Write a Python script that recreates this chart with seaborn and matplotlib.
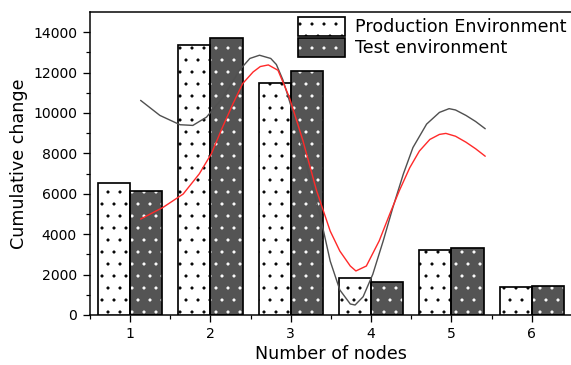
import matplotlib
matplotlib.use("Agg")
import matplotlib.pyplot as plt
from matplotlib.patches import Rectangle
from matplotlib.legend_handler import HandlerTuple
from matplotlib.ticker import MultipleLocator, FixedLocator
import seaborn as sns
import pandas as pd

# ---- data ----
nodes = [1, 2, 3, 4, 5, 6]
production = [6520, 13390, 11500, 1850, 3230, 1390]
test = [6160, 13690, 12060, 1620, 3330, 1455]
series_names = ["Production Environment", "Test environment"]

gray_x = [1.13, 1.37, 1.62, 1.78, 1.95, 2.16, 2.36, 2.49, 2.61, 2.75, 2.82, 2.90, 2.96,
          3.03, 3.19, 3.36, 3.49, 3.61, 3.74, 3.80, 3.90, 4.02, 4.15, 4.27, 4.40, 4.52,
          4.69, 4.85, 4.97, 5.05, 5.18, 5.30, 5.42]
gray_y = [10625, 9880, 9420, 9385, 9795, 10790, 12115, 12700, 12860, 12700, 12400, 11650, 10900,
          9965, 7480, 5000, 2670, 1240, 545, 495, 905, 2015, 3670, 5320, 6975, 8290,
          9450, 10030, 10215, 10150, 9880, 9580, 9220]

red_x = [1.13, 1.41, 1.66, 1.86, 2.01, 2.15, 2.28, 2.40, 2.53, 2.62, 2.72, 2.84, 2.98,
         3.15, 3.32, 3.49, 3.61, 3.74, 3.81, 3.94, 4.10, 4.23, 4.35, 4.48, 4.60, 4.73,
         4.85, 4.93, 5.05, 5.18, 5.30, 5.42]
red_y = [4750, 5330, 5990, 6985, 7980, 9300, 10460, 11455, 12030, 12300, 12380, 12115, 10790,
         8640, 6160, 4155, 3165, 2425, 2180, 2425, 3670, 4985, 6150, 7290, 8115, 8690,
         8940, 8990, 8850, 8555, 8230, 7860]

df = pd.DataFrame({
    "node": nodes * 2,
    "value": production + test,
    "env": [series_names[0]] * len(nodes) + [series_names[1]] * len(nodes),
})

# ---- figure ----
sns.set_style("ticks")
plt.rcParams["font.family"] = ["DejaVu Sans"]
plt.rcParams["hatch.linewidth"] = 0.6
plt.rcParams["text.color"] = "black"
plt.rcParams["axes.labelcolor"] = "black"

DPI = 72
fig = plt.figure(figsize=(571 / DPI, 365 / DPI), dpi=DPI)
ax = fig.add_axes([90 / 571, 50 / 365, 482 / 571, 303 / 365])

sns.barplot(data=df, x="node", y="value", hue="env", native_scale=True,
            palette=["white", "#4f4f4f"], edgecolor="black", linewidth=1.7,
            saturation=1, ax=ax, legend=False)

prod_bars = ax.containers[0]
test_bars = ax.containers[1]
for p in prod_bars.patches:
    p.set_hatch(".")
    p.set_facecolor("white")
    p.set_edgecolor("black")
    p.set_zorder(3)

checkers, dots = [], []
for p in test_bars.patches:
    xy, w, h = p.get_xy(), p.get_width(), p.get_height()
    ck = Rectangle(xy, w, h, facecolor="#d4d4d4", edgecolor="black",
                   hatch="++++++", linewidth=0, zorder=2.4)
    dt = Rectangle(xy, w, h, facecolor="none", edgecolor="white",
                   hatch=".", linewidth=0, zorder=2.5)
    ax.add_patch(ck)
    ax.add_patch(dt)
    checkers.append(ck)
    dots.append(dt)
    p.set_facecolor("none")
    p.set_zorder(3)

sns.lineplot(x=gray_x, y=gray_y, color="#505050", linewidth=1.4, ax=ax)
sns.lineplot(x=red_x, y=red_y, color="#ff2a2a", linewidth=1.4, ax=ax)
for ln in ax.lines:
    ln.set_zorder(6)

ax.set_xlim(0.5, 6.5)
ax.set_ylim(0, 15000)
ax.set_xticks(nodes)
ax.set_xticklabels([str(n) for n in nodes])
ax.xaxis.set_minor_locator(FixedLocator([0.5, 1.5, 2.5, 3.5, 4.5, 5.5]))
ax.yaxis.set_major_locator(MultipleLocator(2000))
ax.yaxis.set_minor_locator(FixedLocator([1000, 3000, 5000, 7000, 9000, 11000, 13000]))

ax.tick_params(axis="both", which="major", direction="out", length=7, width=1.3,
               labelsize=14, colors="black")
ax.tick_params(axis="both", which="minor", direction="out", length=4, width=1.2,
               colors="black")
ax.tick_params(axis="x", which="major", pad=5)
ax.tick_params(axis="y", which="major", pad=6)

for side in ["left", "bottom", "top"]:
    ax.spines[side].set_linewidth(1.5)
    ax.spines[side].set_color("black")
ax.spines["right"].set_visible(False)

ax.set_xlabel("Number of nodes", fontsize=17.5, labelpad=4, color="black")
ax.set_ylabel("Cumulative change", fontsize=17.5, labelpad=5, color="black")

leg = ax.legend(handles=[prod_bars.patches[0], (checkers[0], dots[0], test_bars.patches[0])],
                labels=series_names,
                handler_map={tuple: HandlerTuple(ndivide=1, pad=0)},
                loc="upper left", bbox_to_anchor=(0.4315, 0.983), frameon=False,
                fontsize=17.5, handlelength=2.7, handleheight=1.26, labelspacing=0.1,
                handletextpad=0.57, borderpad=0, borderaxespad=0)
for t in leg.get_texts():
    t.set_color("black")

fig.savefig("out.png", dpi=DPI)
